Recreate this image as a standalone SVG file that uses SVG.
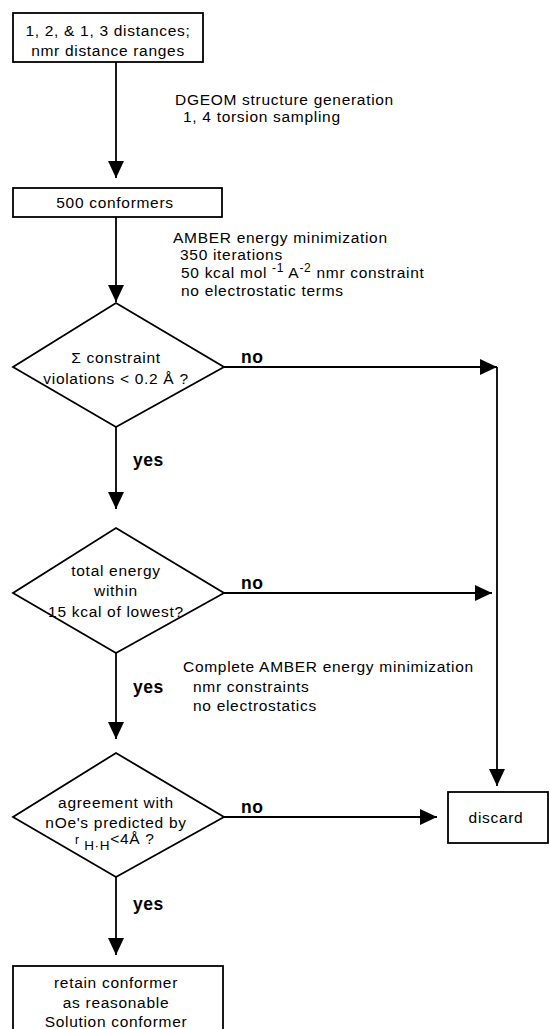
<svg xmlns="http://www.w3.org/2000/svg" width="550" height="1029" viewBox="0 0 550 1029">
<defs>
<style>
.t{font-family:"Liberation Sans",Arial,sans-serif;font-size:15.5px;letter-spacing:0.7px;fill:#000}
.c{text-anchor:middle}
.b{font-family:"Liberation Sans",Arial,sans-serif;font-size:17.5px;font-weight:bold;letter-spacing:0.5px;fill:#000}
.box{fill:#fff;stroke:#000;stroke-width:1.8}
.ln{fill:none;stroke:#000;stroke-width:1.8}
</style>
<marker id="ah" markerUnits="userSpaceOnUse" markerWidth="17" markerHeight="16" refX="17" refY="8" orient="auto">
<path d="M0,0 L17,8 L0,16 Z" fill="#000"/>
</marker>
</defs>
<rect width="550" height="1029" fill="#fff"/>
<g id="connectors">
<line class="ln" x1="116" y1="62" x2="116" y2="178" marker-end="url(#ah)"/>
<line class="ln" x1="116" y1="217" x2="116" y2="302" marker-end="url(#ah)"/>
<line class="ln" x1="116" y1="427" x2="116" y2="509" marker-end="url(#ah)"/>
<line class="ln" x1="116" y1="653" x2="116" y2="739" marker-end="url(#ah)"/>
<line class="ln" x1="116" y1="877" x2="116" y2="955" marker-end="url(#ah)"/>
<line class="ln" x1="224" y1="367" x2="497" y2="367" marker-end="url(#ah)"/>
<line class="ln" x1="497" y1="367" x2="497" y2="786" marker-end="url(#ah)"/>
<line class="ln" x1="224" y1="593" x2="492" y2="593" marker-end="url(#ah)"/>
<line class="ln" x1="224" y1="817" x2="437" y2="817" marker-end="url(#ah)"/>
<text class="t" x="175" y="105">DGEOM structure generation</text>
<text class="t" x="183" y="122">1, 4 torsion sampling</text>
<text class="t" x="173" y="243">AMBER energy minimization</text>
<text class="t" x="180" y="260">350 iterations</text>
<text class="t" x="181" y="278">50 kcal mol <tspan font-size="12" dy="-6">-1</tspan><tspan dy="6"> A</tspan><tspan font-size="12" dy="-6">-2</tspan><tspan dy="6"> nmr constraint</tspan></text>
<text class="t" x="181" y="296">no electrostatic terms</text>
<text class="b" x="241" y="363">no</text>
<text class="b" x="133" y="466">yes</text>
<text class="b" x="241" y="589">no</text>
<text class="t" x="183" y="672">Complete AMBER energy minimization</text>
<text class="t" x="193" y="692">nmr constraints</text>
<text class="t" x="193" y="711">no electrostatics</text>
<text class="b" x="133" y="693">yes</text>
<text class="b" x="241" y="813">no</text>
<text class="b" x="133" y="910">yes</text>
</g>
<g id="n1">
<rect class="box" x="13" y="13" width="190" height="49"/>
<text class="t c" x="108" y="36">1, 2, &amp; 1, 3 distances;</text>
<text class="t c" x="108" y="56">nmr distance ranges</text>
</g>
<g id="n2">
<rect class="box" x="13" y="188" width="209" height="29"/>
<text class="t c" x="115" y="208">500 conformers</text>
</g>
<g id="d1">
<polygon class="box" points="116,303 224,367 116,427 13,367"/>
<text class="t c" x="116" y="363">Σ constraint</text>
<text class="t c" x="116" y="384">violations &lt; 0.2 Å ?</text>
</g>
<g id="d2">
<polygon class="box" points="116,528 224,593 116,653 13,593"/>
<text class="t c" x="116" y="576">total energy</text>
<text class="t c" x="116" y="596">within</text>
<text class="t c" x="116" y="617">15 kcal of lowest?</text>
</g>
<g id="d3">
<polygon class="box" points="116,753 224,817 116,877 13,817"/>
<text class="t c" x="116" y="808">agreement with</text>
<text class="t c" x="116" y="828">nOe's predicted by</text>
<text class="t" x="75" y="844"><tspan font-size="12">r</tspan><tspan font-size="13.5" dy="6"> H·H</tspan><tspan dy="-6">&lt;4Å  ?</tspan></text>
</g>
<g id="discard">
<rect class="box" x="448" y="792" width="100" height="51"/>
<text class="t c" x="496" y="823">discard</text>
</g>
<g id="n3">
<rect class="box" x="13" y="966" width="210" height="70"/>
<text class="t c" x="116" y="988">retain conformer</text>
<text class="t c" x="116" y="1008">as reasonable</text>
<text class="t c" x="116" y="1027">Solution conformer</text>
</g>
</svg>
